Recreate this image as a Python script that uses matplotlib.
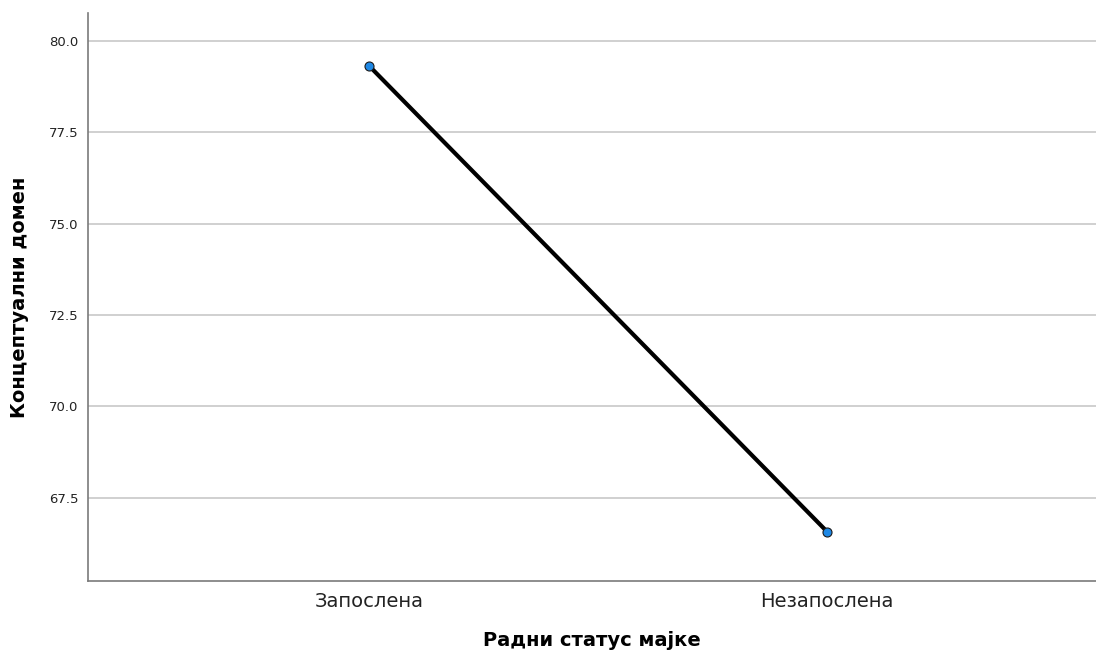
import matplotlib
matplotlib.use("Agg")
import matplotlib.pyplot as plt

# data
categories = ["Запослена", "Незапослена"]
means = [79.32, 66.57]
y_ticks = [67.5, 70.0, 72.5, 75.0, 77.5, 80.0]

plt.rcParams["font.family"] = ["DejaVu Sans"]

fig = plt.figure(figsize=(10.96, 6.58), dpi=100)
ax = fig.add_axes([0.0803, 0.117, 0.9197, 0.863])

xs = list(range(len(categories)))
ax.plot(xs, means, color="black", linewidth=3, zorder=3)
ax.plot(xs, means, linestyle="none", marker="o", markersize=6.5,
        markerfacecolor="#1e88e5", markeredgecolor="#1a1a1a",
        markeredgewidth=0.8, zorder=4)

ax.set_xlim(-0.6135, 1.587)
ax.set_ylim(65.22, 80.76)
ax.set_xticks(xs)
ax.set_xticklabels(categories, fontsize=14, color="#222222")
ax.set_yticks(y_ticks)
ax.set_yticklabels([f"{v:.1f}" for v in y_ticks], fontsize=9.5, color="#222222")
ax.tick_params(axis="both", length=0)
ax.tick_params(axis="x", pad=8)
ax.tick_params(axis="y", pad=7)

ax.grid(axis="y", color="#c8c8c8", linewidth=1.2, zorder=0)
ax.set_axisbelow(True)

for side in ["top", "right"]:
    ax.spines[side].set_visible(False)
for side in ["left", "bottom"]:
    ax.spines[side].set_color("#7a7a7a")
    ax.spines[side].set_linewidth(1.2)

ax.set_xlabel("Радни статус мајке", fontsize=14, fontweight="bold", labelpad=14)
ax.set_ylabel("Концептуални домен", fontsize=14, fontweight="bold", labelpad=14)

fig.savefig("out.png", dpi=100)
